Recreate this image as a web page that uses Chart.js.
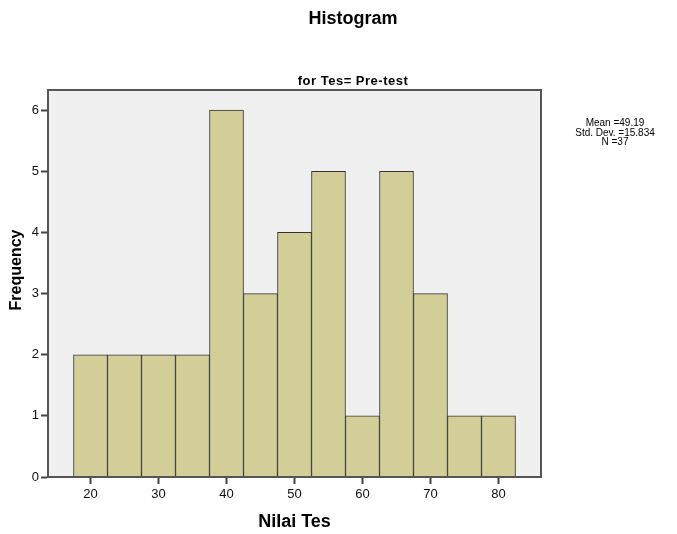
<!DOCTYPE html>
<html>
<head>
<meta charset="utf-8">
<script src="https://cdn.jsdelivr.net/npm/chart.js@4.4.1/dist/chart.umd.min.js"></script>
<style>
	html, body { margin: 0; padding: 0; background: #fff; }
	#wrap { width: 677px; height: 534px; }
</style>
</head>
<body>
<div id="wrap"><canvas id="histChart" width="677" height="534"></canvas></div>
<script>
// bin centres (width 5) and counts
const binCenters = [20, 25, 30, 35, 40, 45, 50, 55, 60, 65, 70, 75, 80]
const frequencies = [2, 2, 2, 2, 6, 3, 4, 5, 1, 5, 3, 1, 1]

const chartTitle = "Histogram"
const chartSubtitle = "for Tes= Pre-test"
const xTitle = "Nilai Tes"
const yTitle = "Frequency"
const statsLines = ["Mean =49.19", "Std. Dev. =15.834", "N =37"]

const fontFam = "'Liberation Sans', Arial, sans-serif"

const points = binCenters.map((c, i) => ({x: c, y: frequencies[i]}))

const frameAndText = {
	id: "frameAndText",
	beforeDraw(chart){
		const a = chart.chartArea
		const ctx = chart.ctx
		ctx.save()
		ctx.fillStyle = "#f0f0f0"
		ctx.fillRect(a.left, a.top, a.right - a.left, a.bottom - a.top)
		ctx.restore()
	},
	afterDraw(chart){
		const a = chart.chartArea
		const ctx = chart.ctx
		ctx.save()
		//frame round plot area
		ctx.strokeStyle = "#555"
		ctx.lineWidth = 2
		ctx.strokeRect(a.left, a.top, a.right - a.left, a.bottom - a.top)

		ctx.fillStyle = "#000"
		ctx.textAlign = "center"
		ctx.textBaseline = "middle"
		ctx.font = "bold 18px " + fontFam
		ctx.fillText(chartTitle, 353, 19)

		ctx.font = "bold 13px " + fontFam
		ctx.letterSpacing = "0.5px"
		ctx.fillText(chartSubtitle, 353, 81)
		ctx.letterSpacing = "0px"

		ctx.font = "bold 18px " + fontFam
		ctx.fillText(xTitle, (a.left + a.right) / 2, 522)

		ctx.save()
		ctx.translate(17, 270)
		ctx.rotate(-Math.PI / 2)
		ctx.font = "bold 16px " + fontFam
		ctx.fillText(yTitle, 0, 0)
		ctx.restore()

		ctx.font = "10px " + fontFam
		ctx.textBaseline = "alphabetic"
		statsLines.forEach((s, i) => {
			ctx.fillText(s, 615, 126 + i * 9.6)
		})
		ctx.restore()
	}
}

const histChart = new Chart("histChart", {
	type: "bar",
	data: {
		datasets: [{
			data: points,
			backgroundColor: "#d3ce97",
			borderColor: "#333",
			borderWidth: 1,
			barPercentage: 1,
			categoryPercentage: 1
		}]
	},
	options: {
		responsive: false,
		animation: false,
		layout: {
			padding: {top: 90, right: 136, left: 0, bottom: 0}
		},
		plugins: {
			legend: {display: false},
			tooltip: {enabled: false}
		},
		scales: {
			x: {
				type: "linear",
				min: 13.75,
				max: 86.25,
				offset: false,
				afterFit(scale){ scale.height = 57 },
				ticks: {
					stepSize: 10,
					includeBounds: false,
					color: "#111",
					padding: 3,
					font: {family: fontFam, size: 13}
				},
				grid: {
					offset: false,
					drawOnChartArea: false,
					drawTicks: true,
					tickLength: 7,
					tickWidth: 2,
					tickColor: "#444"
				},
				border: {color: "#444", width: 2}
			},
			y: {
				min: 0,
				max: 6.33,
				afterFit(scale){ scale.width = 48 },
				ticks: {
					stepSize: 1,
					includeBounds: false,
					color: "#111",
					padding: 2,
					font: {family: fontFam, size: 13}
				},
				grid: {
					drawOnChartArea: false,
					drawTicks: true,
					tickLength: 7,
					tickWidth: 2,
					tickColor: "#444"
				},
				border: {color: "#444", width: 2}
			}
		}
	},
	plugins: [frameAndText]
})
</script>
</body>
</html>
